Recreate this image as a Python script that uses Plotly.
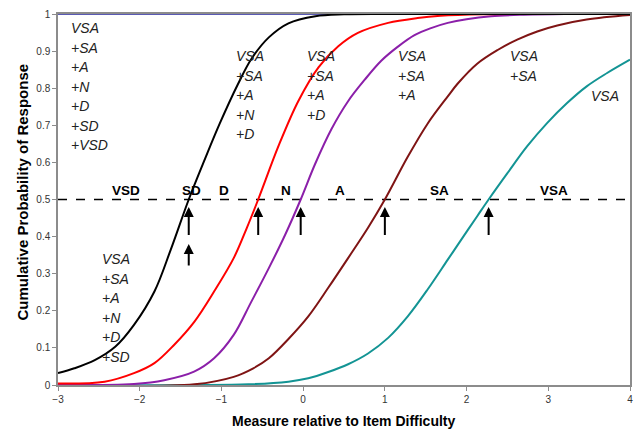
import plotly.graph_objects as go

# ---- data ----
black_x = [-3.0, -2.8, -2.55, -2.3, -2.07, -1.82, -1.62, -1.4, -1.2, -1.02, -0.8, -0.63, -0.42, -0.18, 0.15, 0.5, 1.0, 2.0, 4.0]
black_y = [0.032, 0.045, 0.067, 0.103, 0.162, 0.252, 0.365, 0.5, 0.61, 0.705, 0.81, 0.88, 0.937, 0.975, 0.994, 0.999, 1.0, 1.0, 1.0]

red_x = [-3.0, -2.43, -2.07, -1.82, -1.58, -1.33, -1.09, -0.85, -0.69, -0.55, -0.30, -0.06, 0.19, 0.43, 0.67, 1.04, 1.40, 1.68, 2.2, 3.0, 4.0]
red_y = [0.004, 0.009, 0.032, 0.059, 0.108, 0.171, 0.252, 0.342, 0.423, 0.5, 0.645, 0.765, 0.857, 0.913, 0.949, 0.976, 0.989, 0.995, 0.999, 1.0, 1.0]

purple_x = [-3.0, -2.07, -1.70, -1.335, -1.09, -0.85, -0.64, -0.42, -0.22, -0.03, 0.145, 0.347, 0.55, 0.754, 0.956, 1.16, 1.363, 1.565, 1.77, 2.0, 2.3, 2.7, 3.2, 4.0]
purple_y = [0.0, 0.003, 0.013, 0.036, 0.072, 0.135, 0.222, 0.315, 0.405, 0.5, 0.595, 0.69, 0.765, 0.823, 0.874, 0.912, 0.943, 0.962, 0.976, 0.986, 0.994, 0.998, 1.0, 1.0]

brown_x = [-3.0, -1.33, -0.85, -0.61, -0.42, -0.18, 0.063, 0.307, 0.55, 0.794, 1.0, 1.28, 1.525, 1.77, 1.89, 2.13, 2.38, 2.62, 2.865, 3.11, 3.47, 4.0]
brown_y = [0.0, 0.002, 0.022, 0.045, 0.072, 0.124, 0.185, 0.262, 0.342, 0.424, 0.5, 0.615, 0.705, 0.778, 0.812, 0.866, 0.903, 0.931, 0.953, 0.969, 0.985, 0.997]

teal_x = [-3.0, -0.67, -0.18, 0.063, 0.307, 0.55, 0.794, 1.04, 1.28, 1.525, 1.77, 1.89, 2.13, 2.27, 2.50, 2.74, 2.985, 3.23, 3.47, 3.72, 4.0]
teal_y = [0.0, 0.002, 0.009, 0.018, 0.035, 0.056, 0.085, 0.127, 0.185, 0.258, 0.338, 0.377, 0.455, 0.5, 0.571, 0.643, 0.706, 0.76, 0.805, 0.841, 0.877]

total_x = [-3.0, 4.0]
total_y = [1.0, 1.0]

half_level = 0.5
thresholds = [-1.4, -0.55, -0.03, 1.0, 2.27]

category_labels = ["VSD", "SD", "D", "N", "A", "SA", "VSA"]
category_x = [-2.17, -1.365, -0.963, -0.214, 0.45, 1.67, 3.07]

blocks = [
    (["VSA", "+SA", "+A", "+N", "+D", "+SD", "+VSD"], -2.87, 0.961),
    (["VSA", "+SA", "+A", "+N", "+D"], -0.842, 0.886),
    (["VSA", "+SA", "+A", "+D"], 0.023, 0.886),
    (["VSA", "+SA", "+A"], 1.139, 0.886),
    (["VSA", "+SA"], 2.51, 0.886),
    (["VSA"], 3.50, 0.778),
    (["VSA", "+SA", "+A", "+N", "+D", "+SD"], -2.486, 0.339),
]

FONT = "Arial, Liberation Sans, sans-serif"

fig = go.Figure()
fig.add_trace(go.Scatter(x=total_x, y=total_y, mode="lines",
                         line=dict(color="#5a5ab4", width=2), hoverinfo="skip"))
fig.add_trace(go.Scatter(x=[-3, 4], y=[half_level, half_level], mode="lines",
                         line=dict(color="black", width=1.5, dash="dash"), hoverinfo="skip"))

for xs, ys, col in [(teal_x, teal_y, "#139494"), (brown_x, brown_y, "#7f1414"),
                    (purple_x, purple_y, "#8b1fa9"), (red_x, red_y, "#ff0000"),
                    (black_x, black_y, "#000000")]:
    fig.add_trace(go.Scatter(x=xs, y=ys, mode="lines",
                             line=dict(color=col, width=2, shape="spline", smoothing=1.0)))

anns = []
for t in thresholds:
    anns.append(dict(x=t, y=0.48, ax=t, ay=0.40, xref="x", yref="y", axref="x", ayref="y",
                     showarrow=True, arrowhead=2, arrowsize=1, arrowwidth=2, arrowcolor="black", text=""))
anns.append(dict(x=thresholds[0], y=0.38, ax=thresholds[0], ay=0.318, xref="x", yref="y", axref="x", ayref="y",
                 showarrow=True, arrowhead=2, arrowsize=1, arrowwidth=2, arrowcolor="black", text=""))

for lab, cx in zip(category_labels, category_x):
    anns.append(dict(x=cx, y=0.524, xref="x", yref="y", text="<b>%s</b>" % lab, showarrow=False,
                     font=dict(family=FONT, size=13.5, color="black"), xanchor="center", yanchor="middle"))

for lines, bx, by in blocks:
    for i, s in enumerate(lines):
        anns.append(dict(x=bx, y=by - i * 0.0525, xref="x", yref="y", text="<i>%s</i>" % s, showarrow=False,
                         font=dict(family=FONT, size=14, color="#222"), xanchor="left", yanchor="middle"))

anns.append(dict(x=-0.062, y=0.52, xref="paper", yref="paper", text="<b>Cumulative Probability of Response</b>",
                 textangle=-90, showarrow=False, font=dict(family=FONT, size=15, color="black"),
                 xanchor="center", yanchor="middle"))
anns.append(dict(x=0.5, y=-0.097, xref="paper", yref="paper", text="<b>Measure relative to Item Difficulty</b>",
                 showarrow=False, font=dict(family=FONT, size=14, color="black"),
                 xanchor="center", yanchor="middle"))

fig.update_layout(
    width=639, height=429,
    margin=dict(l=58, r=6, t=14, b=44),
    paper_bgcolor="white", plot_bgcolor="white",
    showlegend=False,
    annotations=anns,
    xaxis=dict(range=[-3, 4], dtick=1, tick0=-3, showgrid=False, zeroline=False,
               showline=True, mirror=True, linecolor="#8c8c8c", linewidth=1.5,
               ticks="outside", ticklen=4, tickcolor="#8c8c8c",
               tickfont=dict(family=FONT, size=10, color="#333")),
    yaxis=dict(range=[0, 1], dtick=0.1, tick0=0, showgrid=False, zeroline=False,
               showline=True, mirror=True, linecolor="#8c8c8c", linewidth=1.5,
               ticks="outside", ticklen=4, tickcolor="#8c8c8c",
               tickfont=dict(family=FONT, size=10, color="#333")),
)

fig.write_html("out.html", config={"displayModeBar": False},
               post_script="document.body.style.margin='0px';")
